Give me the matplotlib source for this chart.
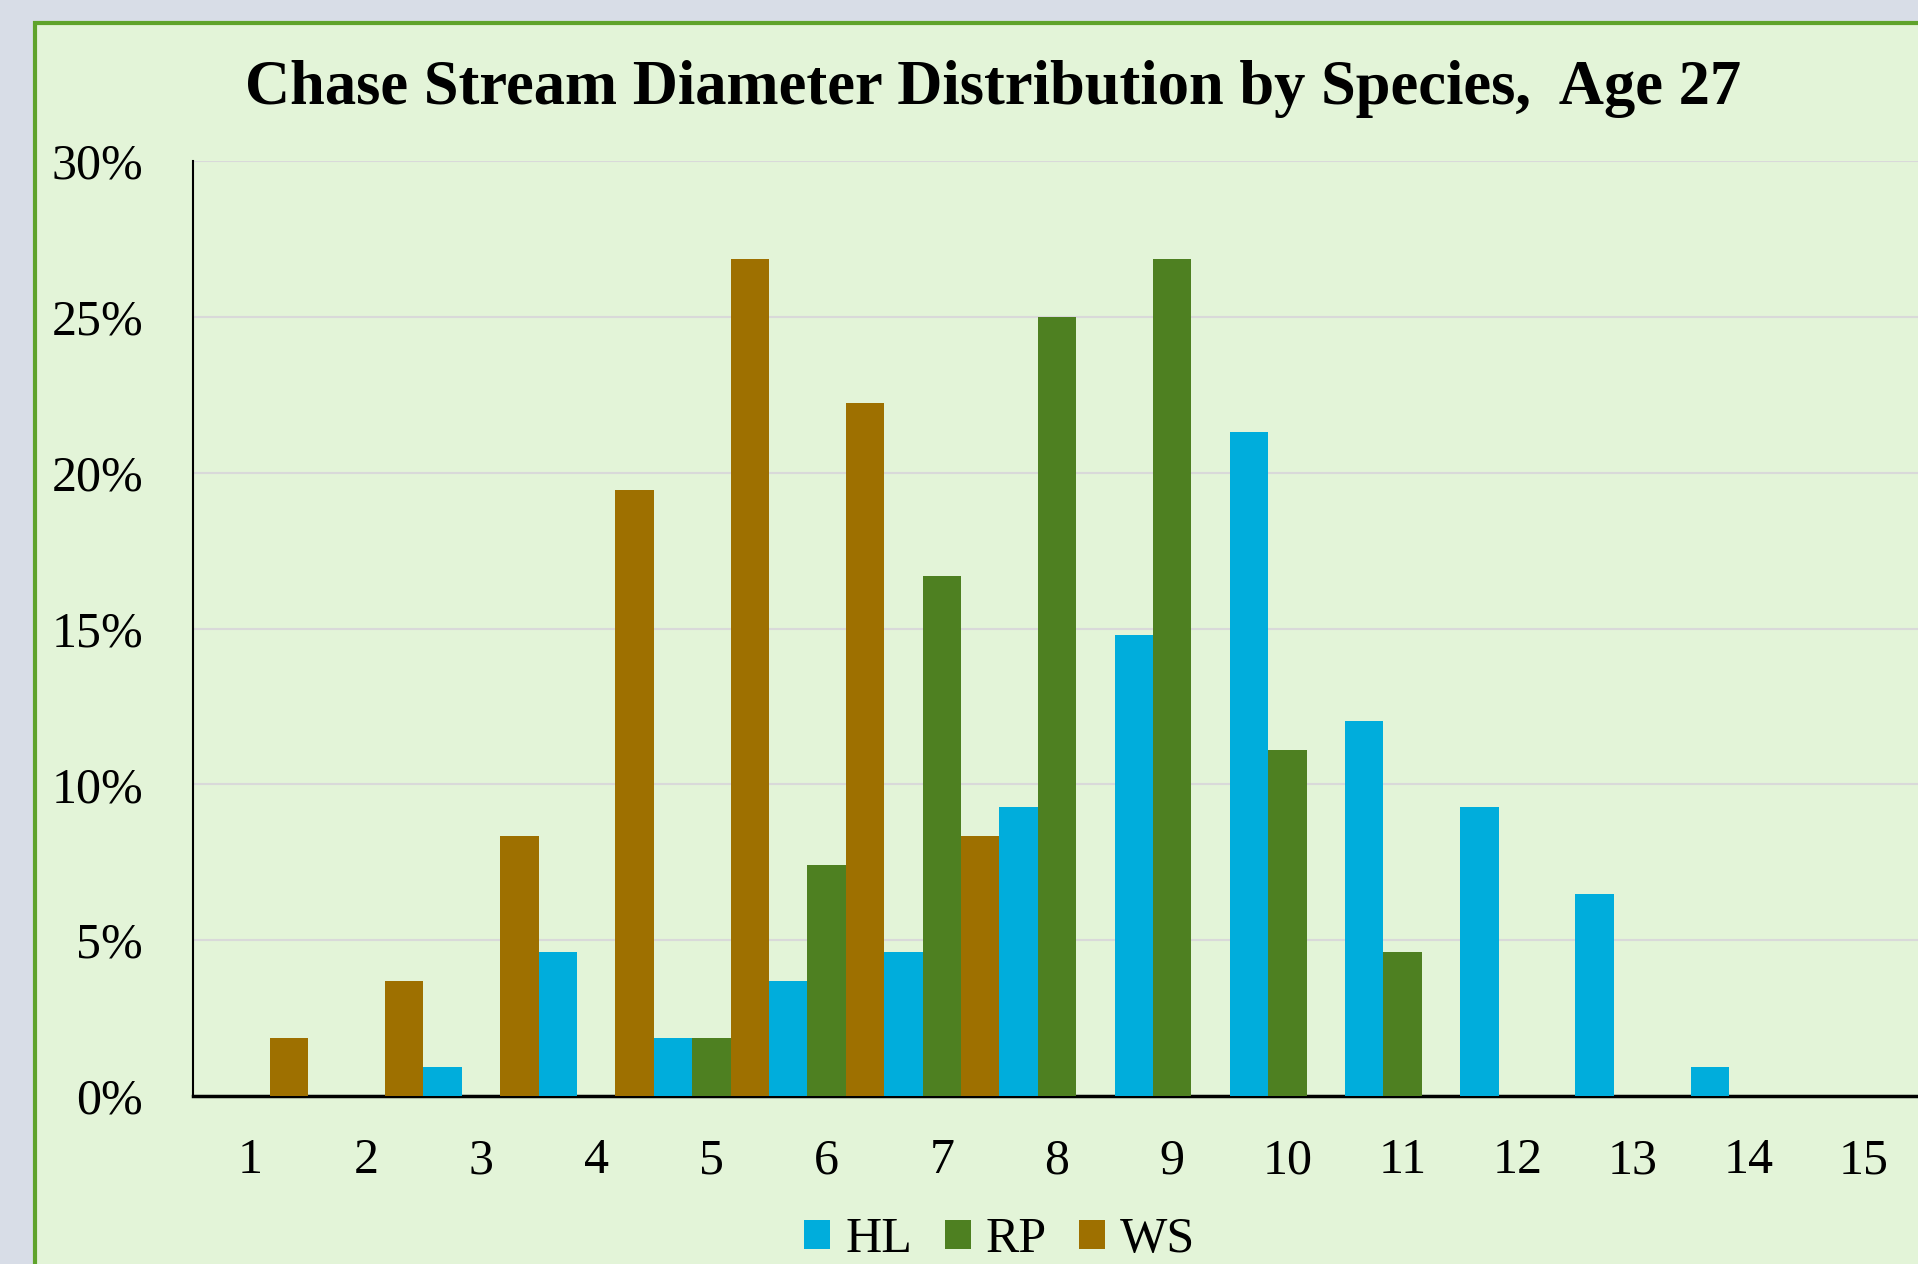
import numpy as np
import matplotlib.pyplot as plt
from matplotlib.patches import Rectangle
from matplotlib.ticker import FuncFormatter

# diameter classes and share of stems per species (percent)
diameters = list(range(1, 16))
hl = [0, 0, 0.93, 4.63, 1.85, 3.7, 4.63, 9.26, 14.8, 21.3, 12.04, 9.26, 6.48, 0.93, 0]
rp = [0, 0, 0, 0, 1.85, 7.41, 16.67, 25.0, 26.85, 11.11, 4.63, 0, 0, 0, 0]
ws = [1.85, 3.7, 8.33, 19.44, 26.85, 22.22, 8.33, 0, 0, 0, 0, 0, 0, 0, 0]
series = ['HL', 'RP', 'WS']
colors = ['#00ADDC', '#4E8021', '#9E7000']

plt.rcParams['font.family'] = ['Liberation Serif', 'DejaVu Serif']

fig = plt.figure(figsize=(19.18, 12.64), dpi=100)
fig.patch.set_facecolor('#D8DDE7')

# chart frame (runs off the right and bottom edge)
fig.patches.append(Rectangle((35 / 1918, -0.1), 2, (1264 - 23) / 1264 + 0.1,
                             transform=fig.transFigure, facecolor='#E3F4D8',
                             edgecolor='#5FA32B', linewidth=3, zorder=-1))

ax = fig.add_axes([193 / 1918, 168 / 1264, 1728 / 1918, 935 / 1264])
ax.set_facecolor('none')

x = np.array(diameters)
w = 1 / 3
for i, (vals, c) in enumerate(zip([hl, rp, ws], colors)):
    ax.bar(x + (i - 1) * w, vals, width=w, color=c, label=series[i], zorder=3)

ax.set_xlim(0.5, 15.5)
ax.set_ylim(0, 30)
ax.set_yticks(range(0, 31, 5))
ax.yaxis.set_major_formatter(FuncFormatter(lambda v, p: f'{v:.0f}%'))
ax.set_xticks(x)
ax.grid(axis='y', color='#D9D9D9', linewidth=1.5, zorder=0)
ax.tick_params(length=0, labelsize=36, colors='black')
ax.tick_params(axis='y', pad=36)
ax.tick_params(axis='x', pad=30)
for s in ['top', 'right']:
    ax.spines[s].set_visible(False)
ax.spines['left'].set_linewidth(1.5)
ax.spines['bottom'].set_linewidth(2.5)

fig.text(993 / 1918, 1 - 89 / 1264, 'Chase Stream Diameter Distribution by Species,  Age 27',
         ha='center', va='center', fontsize=45, fontweight='bold')

ax.legend(loc='center', bbox_to_anchor=(1000 / 1918, 1 - 1240 / 1264),
          bbox_transform=fig.transFigure, ncol=3, frameon=False, fontsize=36,
          handlelength=0.52, handleheight=0.52, handletextpad=0.3, columnspacing=0.65)

fig.savefig('out.png', dpi=100, facecolor=fig.get_facecolor())
